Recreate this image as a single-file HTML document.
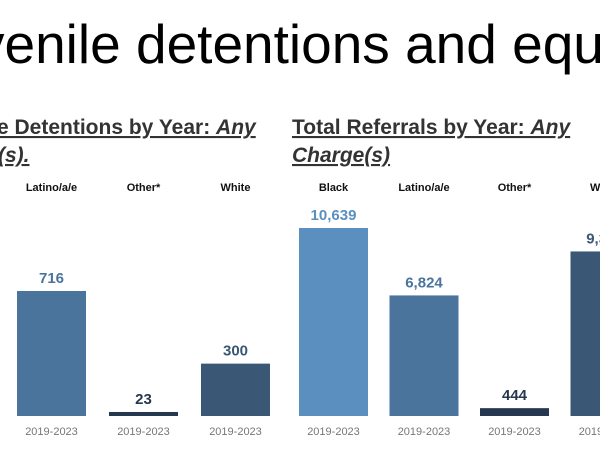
<!DOCTYPE html>
<html><head><meta charset="utf-8"><style>
html,body{margin:0;padding:0;background:#fff;overflow:hidden;}
svg{display:block;}
</style></head><body>
<svg id="chart" width="600" height="450" xmlns="http://www.w3.org/2000/svg" font-family="Liberation Sans, sans-serif">
<text x="-23" y="63" font-size="55" fill="#000">venile detentions and equity</text>
<g font-size="21" font-weight="bold" fill="#333" text-decoration="underline">
<text x="-3" y="134">e Detentions by Year: <tspan font-style="italic">Any</tspan></text>
<text x="-2" y="162" font-style="italic">(s).</text>
</g>
<g font-size="21" font-weight="bold" fill="#333" text-decoration="underline">
<text x="292" y="134">Total Referrals by Year: <tspan font-style="italic">Any</tspan></text>
<text x="292" y="162" font-style="italic">Charge(s)</text>
</g>
<g id="bars"></g>
</svg>
<script>
const leftCategories = ["Latino/a/e","Other*","White"];
const leftValues = [716, 23, 300];
const leftLabels = ["716","23","300"];
const rightCategories = ["Black","Latino/a/e","Other*","White"];
const rightValues = [10639, 6824, 444, 9312];
const rightLabels = ["10,639","6,824","444","9,312"];
const periodLabel = "2019-2023";

const colorMap = {"Black":"#5b8fc0","Latino/a/e":"#4a749c","Other*":"#253850","White":"#3a5775"};
const baseY = 416, barW = 69;
const g = document.getElementById('bars');
const NS = "http://www.w3.org/2000/svg";
function mk(tag, attrs){const e=document.createElementNS(NS,tag);for(const k in attrs)e.setAttribute(k,attrs[k]);return e;}
function drawPanel(cats, vals, labels, x0, step, maxVal, maxH, prefix){
  const yScale = v => Math.max(3, v / maxVal * maxH);
  cats.forEach((c,i)=>{
    const x = x0 + i*step;
    const h = yScale(vals[i]);
    const cx = x + barW/2;
    const r = mk('rect',{x:x,y:baseY-h,width:barW,height:h,fill:colorMap[c]});
    
    
    g.appendChild(r);
    const vl = mk('text',{x:cx,y:baseY-h-8,'text-anchor':'middle','font-size':'15','font-weight':'bold',fill:colorMap[c]});
    vl.textContent = labels[i];
    
    
    g.appendChild(vl);
    const cl = mk('text',{x:cx,y:191,'text-anchor':'middle','font-size':'11','font-weight':'bold',fill:'#111'});
    cl.textContent = c;
    
    
    g.appendChild(cl);
    const pl = mk('text',{x:cx,y:435,'text-anchor':'middle','font-size':'11',fill:'#777'});
    pl.textContent = periodLabel;
    
    
    g.appendChild(pl);
  });
}
drawPanel(leftCategories, leftValues, leftLabels, 17, 92, 716, 125, 'detentions');
drawPanel(rightCategories, rightValues, rightLabels, 299, 90.5, 10639, 188, 'referrals');
</script>
</body></html>
